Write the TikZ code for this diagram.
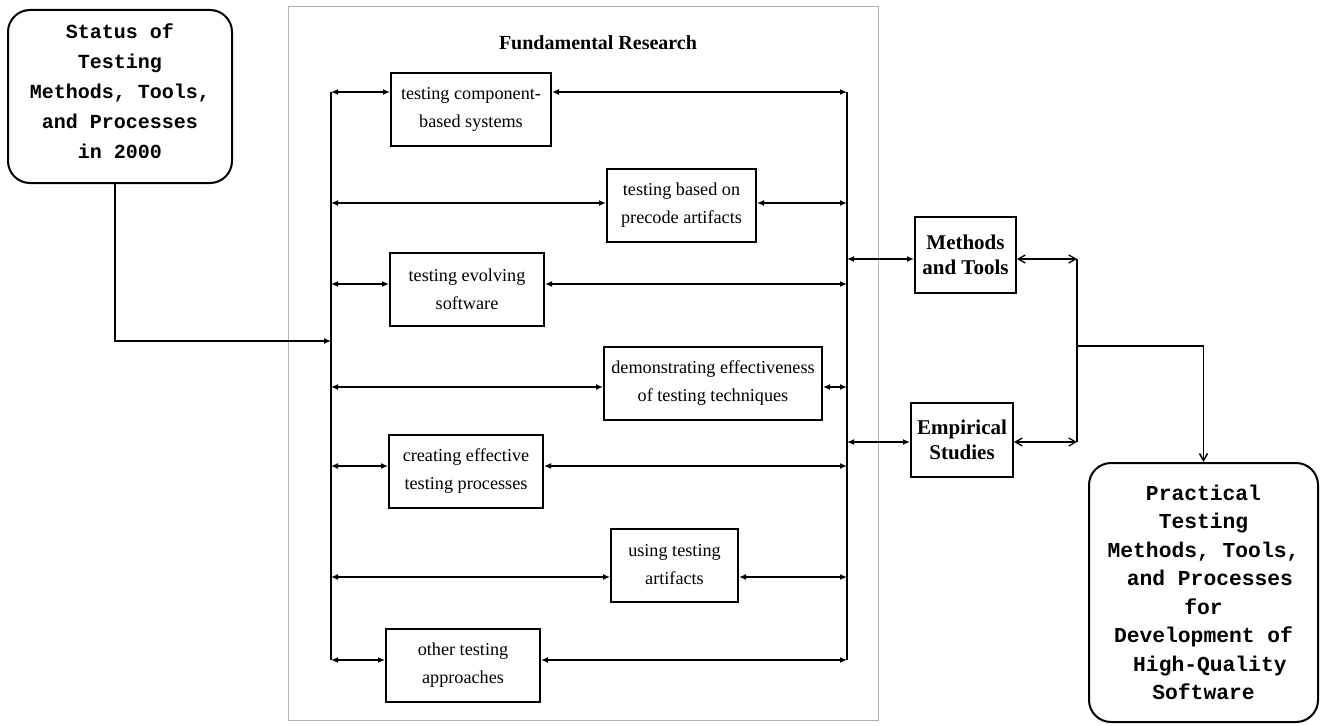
\documentclass[tikz,border=0pt]{standalone}
\usepackage{fontspec}
\setmainfont{Liberation Serif}
\newfontfamily\courierb{Liberation Mono}
\usetikzlibrary{arrows.meta}

\begin{document}
\begin{tikzpicture}[x = 1pt, y = -1pt,
  box/.style = {draw, line width = 2pt, minimum height = 73pt, inner sep = 0pt, align = center, font = \fontsize{18.2}{28}\selectfont},
  res/.style = {draw, line width = 2pt, inner sep = 0pt, align = center, font = \fontsize{21}{24.5}\selectfont\bfseries},
  goal/.style = {draw, line width = 2pt, rounded corners = 22pt, inner sep = 0pt, align = center},
  bus/.style = {line width = 2pt},
  link/.style = {line width = 1.9pt, {Latex[length = 7pt, width = 6pt]}-{Latex[length = 7pt, width = 6pt]}},
  outlink/.style = {line width = 1.3pt, {Straight Barb[length = 7pt, width = 8pt]}-{Straight Barb[length = 7pt, width = 8pt]}}]
\useasboundingbox (0,0) rectangle (1321,725);
\draw [gray!60, line width = 0.8pt] (288,6) rectangle (878,720);
\node (fr) at (598,43) {\fontsize{20}{24}\selectfont\bfseries Fundamental Research};

\node [goal, minimum width = 224pt, minimum height = 173pt, font = \courierb\bfseries\fontsize{20}{30}\selectfont] (s1) at (120,96.5) {Status of\\Testing\\Methods, Tools,\\and Processes\\in 2000\\[-20pt]};
\node [goal, minimum width = 229pt, minimum height = 259pt, font = \courierb\bfseries\fontsize{21.3}{28.5}\selectfont] (p1) at (1203.5,592.5) {Practical\\Testing\\Methods, Tools,\\\hphantom{x}and Processes\\for\\Development of\\\hphantom{x}High-Quality\\Software};

\node [box, minimum width = 160pt] (f1) at (471,109) {testing component-\\based systems};
\node [box, minimum width = 149pt] (f2) at (681.5,205) {testing based on\\precode artifacts};
\node [box, minimum width = 154pt] (f3) at (467,289.5) {testing evolving\\software};
\node [box, minimum width = 218pt] (f4) at (713,383.5) {demonstrating effectiveness\\of testing techniques};
\node [box, minimum width = 154pt] (f5) at (466,471.5) {creating effective\\testing processes};
\node [box, minimum width = 127pt] (f6) at (674.5,565) {using testing\\artifacts};
\node [box, minimum width = 154pt] (f7) at (463,665.5) {other testing\\approaches};

\node [res, minimum width = 101pt, minimum height = 76pt] (m1) at (965.5,255) {Methods\\and Tools};
\node [res, minimum width = 102pt, minimum height = 74pt] (e1) at (962,440) {Empirical\\Studies};

\coordinate (l1) at (331,92);
\coordinate (l2) at (331,203);
\coordinate (l3) at (331,284);
\coordinate (l4) at (331,387);
\coordinate (l5) at (331,466);
\coordinate (l6) at (331,577);
\coordinate (l7) at (331,660);
\coordinate (r1) at (847,92);
\coordinate (r7) at (847,660);
\coordinate (li) at (331,341);
\coordinate (rm) at (847,259);
\coordinate (re) at (847,442);
\coordinate (jm) at (1077,259);
\coordinate (je) at (1077,442);
\coordinate (jc) at (1077,346);

\draw [bus] (l1) -- (l7);
\draw [bus] (r1) -- (r7);
\draw [bus, -{Latex[length = 7pt, width = 6pt]}] ([xshift = -5pt]s1.south) |- (li);

\draw [link] (l1) -- (l1 -| f1.west);
\draw [link] (f1.east |- l1) -- (r1);
\draw [link] (l2) -- (l2 -| f2.west);
\draw [link] (f2.east |- l2) -- (l2 -| r1);
\draw [link] (l3) -- (l3 -| f3.west);
\draw [link] (f3.east |- l3) -- (l3 -| r1);
\draw [link] (l4) -- (l4 -| f4.west);
\draw [link] (f4.east |- l4) -- (l4 -| r1);
\draw [link] (l5) -- (l5 -| f5.west);
\draw [link] (f5.east |- l5) -- (l5 -| r1);
\draw [link] (l6) -- (l6 -| f6.west);
\draw [link] (f6.east |- l6) -- (l6 -| r1);
\draw [link] (l7) -- (l7 -| f7.west);
\draw [link] (f7.east |- l7) -- (r7);

\draw [link] (rm) -- (rm -| m1.west);
\draw [link] (re) -- (re -| e1.west);
\draw [outlink] (m1.east |- jm) -- (jm);
\draw [outlink] (e1.east |- je) -- (je);
\draw [line width = 1.5pt] (jm) -- (je);
\draw [line width = 1.5pt, -{Straight Barb[length = 7pt, width = 8pt]}] (jc) -| (p1.north);
\end{tikzpicture}
\end{document}
